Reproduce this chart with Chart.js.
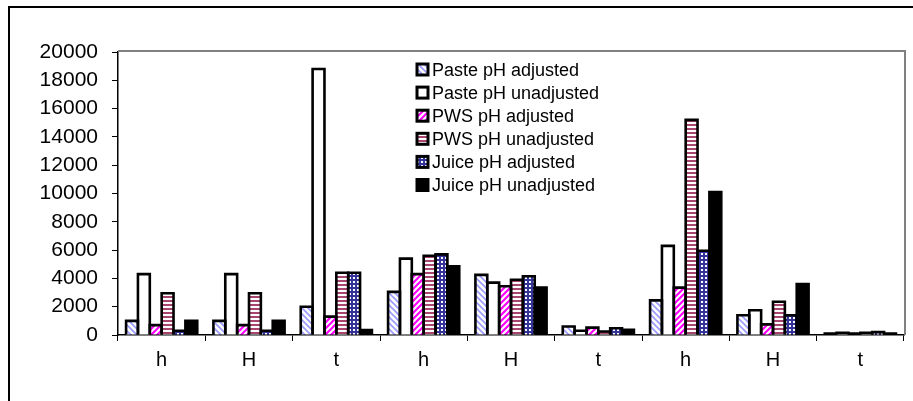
<!DOCTYPE html>
<html>
<head>
<meta charset="utf-8">
<script src="https://cdn.jsdelivr.net/npm/chart.js@4.4.1/dist/chart.umd.min.js"></script>
<style>
  html, body { margin: 0; padding: 0; background: #fff; }
  #wrap { width: 913px; height: 401px; }
</style>
</head>
<body>
<div id="wrap"><canvas id="chart" width="913" height="401"></canvas></div>
<script>
// datos
const categories = ['h', 'H', 't', 'h', 'H', 't', 'h', 'H', 't'];
const seriesNames = ['Paste pH adjusted', 'Paste pH unadjusted', 'PWS pH adjusted', 'PWS pH unadjusted', 'Juice pH adjusted', 'Juice pH unadjusted'];
const pasteAdjusted = [1000, 1000, 2000, 3050, 4250, 600, 2450, 1400, 100];
const pasteUnadjusted = [4300, 4300, 18800, 5400, 3700, 300, 6300, 1750, 150];
const pwsAdjusted = [700, 700, 1300, 4300, 3450, 520, 3350, 750, 100];
const pwsUnadjusted = [2950, 2950, 4400, 5600, 3900, 250, 15200, 2350, 150];
const juiceAdjusted = [300, 300, 4400, 5700, 4150, 480, 5950, 1400, 200];
const juiceUnadjusted = [1000, 1000, 350, 4850, 3350, 360, 10100, 3600, 100];
const yTicks = [0, 2000, 4000, 6000, 8000, 10000, 12000, 14000, 16000, 18000, 20000];

const FONT = '"Liberation Sans", Arial, sans-serif';

// patrones de relleno
function makePattern(size, draw) {
  const c = document.createElement('canvas');
  c.width = size; c.height = size;
  const g = c.getContext('2d');
  g.fillStyle = '#fff';
  g.fillRect(0, 0, size, size);
  draw(g, size);
  return g.createPattern(c, 'repeat');
}

const fills = [
  makePattern(6, (g, s) => {
    g.strokeStyle = '#9999ff'; g.lineWidth = 1.6;
    g.beginPath();
    g.moveTo(-1, -1); g.lineTo(s + 1, s + 1);
    g.moveTo(-1, s - 1); g.lineTo(1, s + 1);
    g.moveTo(s - 1, -1); g.lineTo(s + 1, 1);
    g.stroke();
  }),
  '#ffffff',
  makePattern(6, (g, s) => {
    g.strokeStyle = '#ff00ff'; g.lineWidth = 2.2;
    g.beginPath();
    g.moveTo(-1, s + 1); g.lineTo(s + 1, -1);
    g.moveTo(-1, 1); g.lineTo(1, -1);
    g.moveTo(s - 1, s + 1); g.lineTo(s + 1, s - 1);
    g.stroke();
  }),
  makePattern(4, (g, s) => {
    g.fillStyle = '#a8456f';
    g.fillRect(0, 0, s, 2);
  }),
  makePattern(4, (g, s) => {
    g.fillStyle = '#333399';
    g.fillRect(0, 0, s, s);
    g.fillStyle = '#fff';
    g.fillRect(1, 1, 2, 2);
  }),
  '#000000'
];

const seriesData = [pasteAdjusted, pasteUnadjusted, pwsAdjusted, pwsUnadjusted, juiceAdjusted, juiceUnadjusted];

const datasets = seriesData.map((d, i) => ({
  label: seriesNames[i],
  data: d,
  backgroundColor: fills[i],
  borderWidth: 0,
  inflateAmount: 0,
  barPercentage: 1,
  categoryPercentage: 0.815
}));

// marco, contorno de barras y leyenda
const framePlugin = {
  id: 'frame',
  beforeDatasetsDraw(chart) {
    const { ctx, chartArea } = chart;
    ctx.save();
    ctx.strokeStyle = '#808080';
    ctx.lineWidth = 2;
    ctx.beginPath();
    ctx.moveTo(chartArea.left, chartArea.top - 1);
    ctx.lineTo(chartArea.right + 1, chartArea.top - 1);
    ctx.lineTo(chartArea.right + 1, chartArea.bottom);
    ctx.stroke();
    ctx.restore();
  },
  afterDatasetsDraw(chart) {
    const ctx = chart.ctx;
    ctx.save();
    ctx.strokeStyle = '#000';
    ctx.lineWidth = 2.6;
    ctx.lineJoin = 'miter';
    chart.data.datasets.forEach((ds, i) => {
      chart.getDatasetMeta(i).data.forEach(bar => {
        const { x, y, base, width } = bar.getProps(['x', 'y', 'base', 'width'], true);
        ctx.beginPath();
        ctx.moveTo(x - width / 2, base);
        ctx.lineTo(x - width / 2, y);
        ctx.lineTo(x + width / 2, y);
        ctx.lineTo(x + width / 2, base);
        ctx.stroke();
      });
    });
    ctx.restore();
  },
  afterDraw(chart) {
    const ctx = chart.ctx;
    ctx.save();
    // borde exterior
    ctx.strokeStyle = '#000';
    ctx.lineWidth = 2;
    ctx.strokeRect(9, 7, 940, 440);
    // leyenda
    ctx.font = '18px ' + FONT;
    ctx.textBaseline = 'middle';
    chart.data.datasets.forEach((ds, i) => {
      const y = 70 + i * 23.1;
      ctx.fillStyle = ds.backgroundColor;
      ctx.fillRect(417, y - 6, 11, 11);
      ctx.strokeStyle = '#000';
      ctx.lineWidth = 3;
      ctx.strokeRect(417, y - 6, 11, 11);
      ctx.fillStyle = '#000';
      ctx.fillText(ds.label, 432, y + 1);
    });
    ctx.restore();
  }
};

new Chart(document.getElementById('chart'), {
  type: 'bar',
  data: { labels: categories, datasets },
  plugins: [framePlugin],
  options: {
    responsive: false,
    animation: false,
    devicePixelRatio: 1,
    layout: { padding: { left: 0, right: 9, top: 52, bottom: 0 } },
    plugins: {
      legend: { display: false },
      tooltip: { enabled: false }
    },
    scales: {
      x: {
        afterFit(axis) { axis.height = 66; },
        grid: {
          offset: true,
          drawOnChartArea: false,
          tickLength: 6,
          color: '#000',
          lineWidth: 1
        },
        border: { color: '#000', width: 1.5 },
        ticks: { color: '#000', padding: 7, font: { family: FONT, size: 20 } }
      },
      y: {
        min: 0,
        max: 20000,
        afterFit(axis) { axis.width = 118; },
        afterBuildTicks(axis) { axis.ticks = yTicks.map(v => ({ value: v })); },
        grid: {
          drawOnChartArea: false,
          tickLength: 6,
          color: '#000',
          lineWidth: 1
        },
        border: { color: '#000', width: 1.5 },
        ticks: {
          color: '#000',
          padding: 14,
          font: { family: FONT, size: 21 },
          callback: v => String(v)
        }
      }
    }
  }
});
</script>
</body>
</html>
